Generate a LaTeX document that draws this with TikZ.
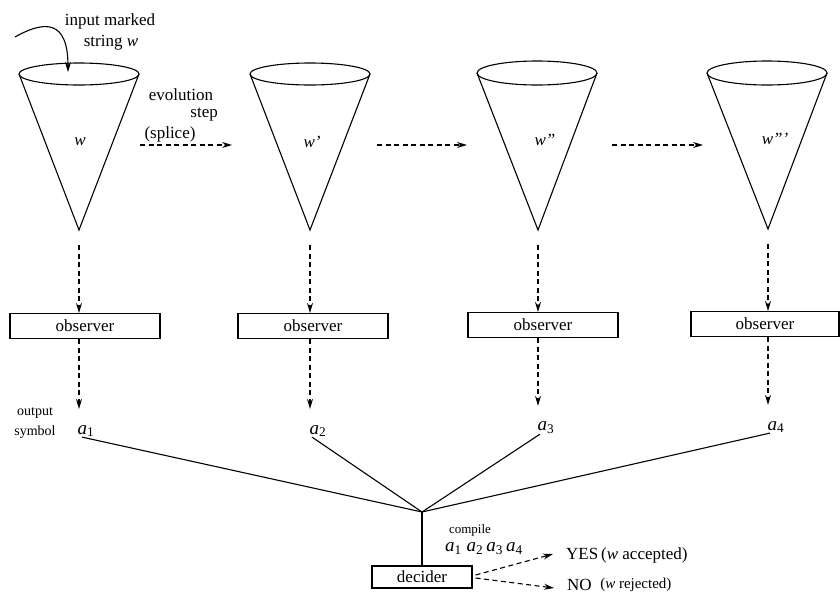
\documentclass[tikz,border=0pt]{standalone}
\usepackage{fontspec}
\setmainfont{Liberation Serif}
\usetikzlibrary{calc,arrows.meta}
\tikzset{
  coneline/.style={draw=black, line width=1.1pt},
  link/.style={draw=black, line width=1.1pt},
  flow/.style={draw=black, line width=1.1pt, dash pattern=on 5pt off 3.5pt, -{Stealth[length=10pt,width=6pt]}},
  obsbox/.style={draw=black, line width=1.1pt, minimum width=150pt, minimum height=25pt, inner sep=0pt, font=\fontsize{17}{20}\selectfont},
  lab/.style={font=\fontsize{17}{20}\selectfont, inner sep=0pt},
  sublab/.style={font=\fontsize{19}{22}\selectfont, inner sep=0pt},
  smalllab/.style={font=\fontsize{14}{16}\selectfont, inner sep=0pt},
  tinylab/.style={font=\fontsize{13}{15}\selectfont, inner sep=0pt},
}

\begin{document}
\begin{tikzpicture}[x=1pt,y=-1pt]
  \useasboundingbox (0,0) rectangle (840,595);

  % cones
  \coordinate (C1) at (79,74);  \coordinate (P1) at (79,230);
  \coordinate (C2) at (310,74); \coordinate (P2) at (310,230);
  \coordinate (C3) at (537,73); \coordinate (P3) at (538,230);
  \coordinate (C4) at (767,73); \coordinate (P4) at (768,229);

  \draw[coneline] (C1) ellipse [x radius=60, y radius=11];
  \draw[coneline] ($(C1)+(-60,0)$) -- (P1) -- ($(C1)+(60,0)$);
  \draw[coneline] (C2) ellipse [x radius=60, y radius=11];
  \draw[coneline] ($(C2)+(-60,0)$) -- (P2) -- ($(C2)+(60,0)$);
  \draw[coneline] (C3) ellipse [x radius=60, y radius=12];
  \draw[coneline] ($(C3)+(-60,0)$) -- (P3) -- ($(C3)+(60,0)$);
  \draw[coneline] (C4) ellipse [x radius=60, y radius=12];
  \draw[coneline] ($(C4)+(-60,0)$) -- (P4) -- ($(C4)+(60,0)$);

  \node[lab] (w1) at (80,142) {\textit{w}};
  \node[lab] (w2) at (312,142) {\textit{w'}};
  \node[lab] (w3) at (545,140) {\textit{w''}};
  \node[lab] (w4) at (775,139) {\textit{w'''}};

  % input string
  \coordinate (inS) at (15,37);
  \coordinate (inE) at (68,72);
  \draw[link, -{Stealth[length=10pt,width=6pt]}] (inS) .. controls (45,20) and (68,20) .. (inE);
  \node[lab] (inp) at (110,21) {input marked};
  \node[lab] (str) at (111,43) {string \textit{w}};

  % evolution steps
  \node[lab] (evo) at (181,95) {evolution};
  \node[lab, anchor=east] (stp) at (218,115) {step};
  \node[lab] (spl) at (170,134) {(splice)};
  \coordinate (S1) at (140,145); \coordinate (E1) at (232,145);
  \coordinate (S2) at (377,145); \coordinate (E2) at (467,145);
  \coordinate (S3) at (612,145); \coordinate (E3) at (703,145);
  \draw[flow] (S1) -- (E1);
  \draw[flow] (S2) -- (E2);
  \draw[flow] (S3) -- (E3);

  % observers
  \node[obsbox] (obs1) at (85,326) {observer};
  \node[obsbox] (obs2) at (313,326) {observer};
  \node[obsbox] (obs3) at (543,325) {observer};
  \node[obsbox, minimum width=148pt] (obs4) at (765,324) {observer};

  \draw[flow, shorten <=15pt] (P1) -- (obs1.north -| P1);
  \draw[flow, shorten <=15pt] (P2) -- (obs2.north -| P2);
  \draw[flow, shorten <=15pt] (P3) -- (obs3.north -| P3);
  \draw[flow, shorten <=15pt] (P4) -- (obs4.north -| P4);

  % output symbols
  \node[sublab] (a1) at (86,431) {\textit{a}\textsubscript{1}};
  \node[sublab] (a2) at (318,431) {\textit{a}\textsubscript{2}};
  \node[sublab] (a3) at (546,428) {\textit{a}\textsubscript{3}};
  \node[sublab] (a4) at (776,427) {\textit{a}\textsubscript{4}};
  \node[smalllab] (out) at (35,413) {output};
  \node[smalllab] (sym) at (35,432) {symbol};

  \draw[flow, shorten >=16pt] (obs1.south -| P1) -- (a1.north -| P1);
  \draw[flow, shorten >=16pt] (obs2.south -| P2) -- (a2.north -| P2);
  \draw[flow, shorten >=16pt] (obs3.south -| P3) -- (a3.north -| P3);
  \draw[flow, shorten >=16pt] (obs4.south -| P4) -- (a4.north -| P4);

  \coordinate (J) at (422,512);
  \draw[link] ($(a1.south)+(-4,0)$) -- (J);
  \draw[link] ($(a2.south)+(-6,0)$) -- (J);
  \draw[link] ($(a3.south)+(-6,0)$) -- (J);
  \draw[link] ($(a4.south)+(-6,0)$) -- (J);

  % decider
  \node[obsbox, minimum width=100pt, minimum height=22pt] (dec) at (422,577) {decider};
  \draw[link] (J) -- (dec.north);
  \node[tinylab] (cmp) at (470,530) {compile};
  \node[sublab] (seq) at (484,549) {\textit{a}\textsubscript{1} \textit{a}\textsubscript{2}\,\textit{a}\textsubscript{3}\,\textit{a}\textsubscript{4}};

  \node[lab, anchor=west] (yes) at (566,555) {YES\,(\textit{w} accepted)};
  \node[lab, anchor=west] (no) at (567,585) {NO\ \ \raisebox{2pt}{\fontsize{15}{17}\selectfont(\textit{w} rejected)}};
  \draw[flow] ($(dec.east)+(3,-2)$) -- ($(yes.west)+(-13,-1)$);
  \draw[flow] ($(dec.east)+(3,1)$) -- ($(no.west)+(-13,3)$);
\end{tikzpicture}
\end{document}
